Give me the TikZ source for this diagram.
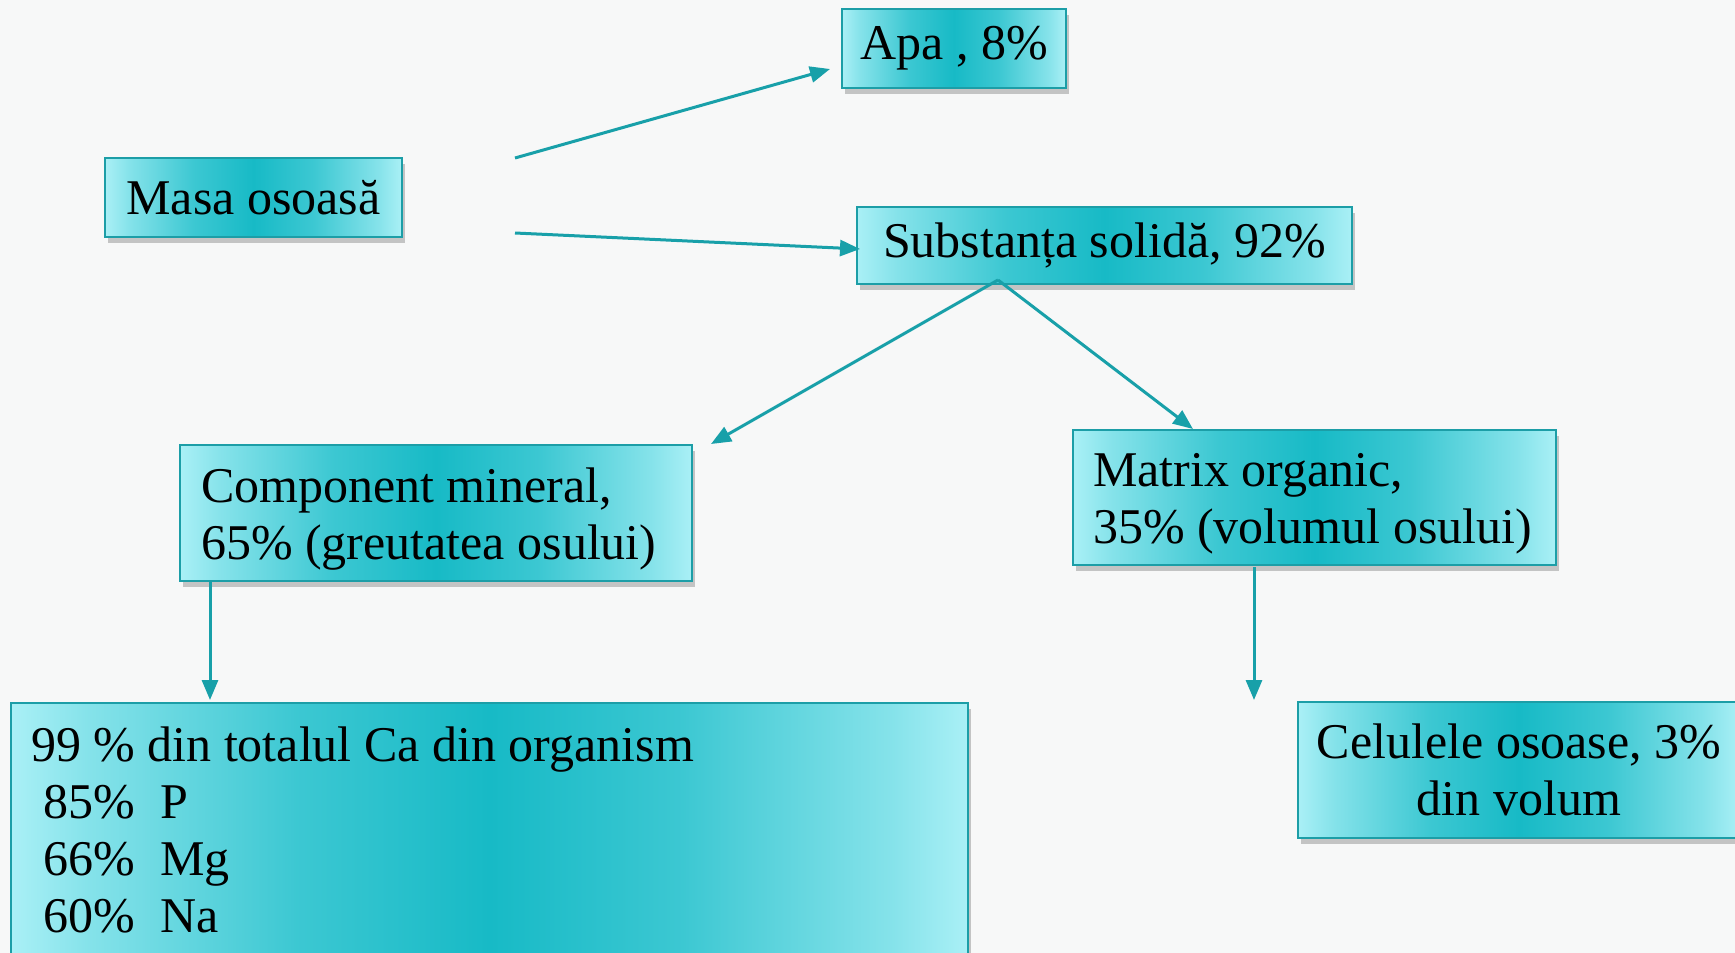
\documentclass[tikz,border=0pt]{standalone}
\usepackage{fontspec}
\setmainfont{Liberation Serif}
\usetikzlibrary{arrows.meta,shadows}
\definecolor{bg}{HTML}{F7F8F8}
\definecolor{cin}{HTML}{17BAC6}
\definecolor{cout}{HTML}{AAF0F6}
\definecolor{bord}{HTML}{1C9EA7}
\definecolor{arr}{HTML}{18A0A9}
\pgfdeclarehorizontalshading{boxshade}{100bp}{color(0bp)=(cout); color(25bp)=(cout); color(29bp)=(cout!75!cin); color(40bp)=(cout!25!cin); color(50bp)=(cin); color(60bp)=(cout!25!cin); color(71bp)=(cout!75!cin); color(75bp)=(cout); color(100bp)=(cout)}
\tikzset{
  box/.style={draw=bord, line width=2pt, shading=boxshade, inner sep=0pt,
    font=\fontsize{50}{57}\selectfont,
    drop shadow={shadow xshift=3pt, shadow yshift=-6pt, opacity=0.3, fill=black!70}},
  conn/.style={draw=arr, line width=3pt, -{Triangle[length=20pt,width=16pt]}}
}
\begin{document}
\begin{tikzpicture}[x=1pt,y=-1pt]
\useasboundingbox[fill=bg] (0,0) rectangle (1735,953);
\begin{scope}
\clip (0,0) rectangle (1735,953);
\node[box, minimum width=224pt, minimum height=79pt] (apa) at (954,48.5) {Apa , 8\%};
\node[box, minimum width=297pt, minimum height=79pt] (masa) at (253.5,197.5) {Masa osoasă};
\node[box, minimum width=495pt, minimum height=77pt] (subst) at (1104.5,245.5) {Substanța solidă, 92\%};
\node[box, inner xsep=21pt, text width=470pt, align=flush left, minimum height=136pt] (comp) at (436,513) {\rule{0pt}{46pt}Component mineral,\\65\% (greutatea osului)};
\node[box, inner xsep=20pt, text width=443pt, align=flush left, minimum height=135pt] (matr) at (1314.5,497.5) {\rule{0pt}{46pt}Matrix organic,\\35\% (volumul osului)};
\node[box, inner xsep=20pt, text width=917pt, align=flush left, minimum height=254pt, anchor=north west] (mine) at (10,702) {99 \% din totalul Ca din organism\\\ 85\%\ \ P\\\ 66\%\ \ Mg\\\ 60\%\ \ Na};
\node[box, align=center, minimum width=442pt, minimum height=136pt] (cel) at (1519,770) {Celulele osoase, 3\%\\din volum};
\end{scope}
\coordinate (m1) at (515,158);
\coordinate (a1) at (830,69);
\coordinate (m2) at (515,233);
\coordinate (s1) at (860,249);
\coordinate (sb) at (998,280);
\coordinate (c1) at (711,444);
\coordinate (o1) at (1193,429);
\coordinate (ct) at (210,582);
\coordinate (mt) at (210,700);
\coordinate (ot) at (1254,567);
\coordinate (cl) at (1254,700);
\draw[conn] (m1) -- (a1);
\draw[conn] (m2) -- (s1);
\draw[conn] (sb) -- (c1);
\draw[conn] (sb) -- (o1);
\draw[conn] (ct) -- (mt);
\draw[conn] (ot) -- (cl);
\end{tikzpicture}
\end{document}
